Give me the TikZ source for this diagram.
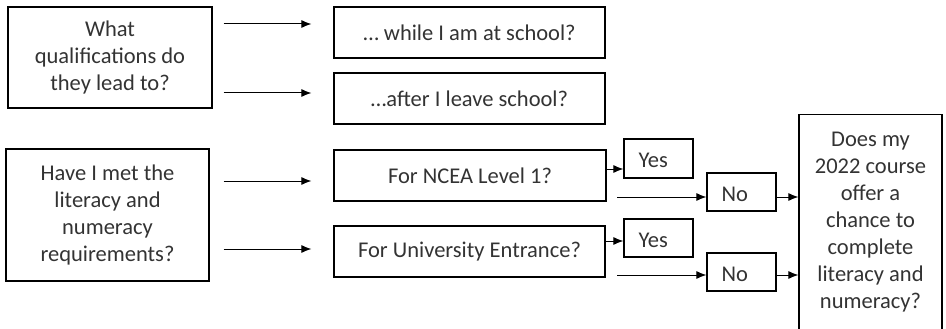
\documentclass[tikz,border=0pt]{standalone}
\usepackage{fontspec}
\setmainfont{Carlito}
\usetikzlibrary{arrows.meta}
\begin{document}
\begin{tikzpicture}[x=1pt,y=-1pt,
  txt/.style={font=\fontsize{22.5}{27}\selectfont,text=black!80},
  box/.style={txt,draw=black,line width=1.2pt,inner sep=0pt,align=center},
  smallbox/.style={box,minimum width=69pt,minimum height=38pt},
  arr/.style={line width=1pt,-{Latex[length=10pt,width=8pt]}}]
\useasboundingbox (0,0) rectangle (946,329);
\begin{scope}
\clip (0,0) rectangle (946,329);
\node[box,minimum width=204pt,minimum height=101pt] (A) at (110,57.5) {What\\qualifications do\\they lead to?};
\node[box,minimum width=271pt,minimum height=51pt] (B) at (469.5,32.5) {\dots\ while I am at school?};
\node[box,minimum width=271pt,minimum height=51pt] (C) at (469.5,98.5) {\dots after I leave school?};
\node[box,minimum width=203pt,minimum height=132pt] (D) at (107.5,215) {Have I met the\\literacy and\\numeracy\\requirements?};
\node[box,minimum width=272pt,minimum height=51pt] (E) at (470,175.5) {For NCEA Level 1?};
\node[box,minimum width=271pt,minimum height=51pt] (F) at (469.5,251.5) {For University Entrance?};
\node[smallbox,minimum height=39pt] (Y1) at (658.5,158.5) {};
\node[smallbox] (N1) at (741.5,192) {};
\node[smallbox] (Y2) at (658.5,238) {};
\node[smallbox] (N2) at (741.5,272) {};
\node[txt,anchor=west,inner sep=0pt] (Y1t) at ([xshift=15pt,yshift=-2pt]Y1.west) {Yes};
\node[txt,anchor=west,inner sep=0pt] (N1t) at ([xshift=15pt,yshift=-2pt]N1.west) {No};
\node[txt,anchor=west,inner sep=0pt] (Y2t) at ([xshift=15pt,yshift=-2pt]Y2.west) {Yes};
\node[txt,anchor=west,inner sep=0pt] (N2t) at ([xshift=15pt,yshift=-2pt]N2.west) {No};
\node[box,minimum width=143pt,minimum height=228pt,anchor=north] (G) at (870.5,114)
  {Does my\\2022 course\\offer a\\chance to\\complete\\literacy and\\numeracy?\\[-11pt]\mbox{}};
\end{scope}
\draw[arr,shorten <=11pt,shorten >=22pt] (A.east |- 0,24) -- (B.west |- 0,24);
\draw[arr,shorten <=11pt,shorten >=22pt] (A.east |- 0,93) -- (C.west |- 0,93);
\draw[arr,shorten <=14pt,shorten >=22pt] (D.east |- 0,181) -- (E.west |- 0,181);
\draw[arr,shorten <=14pt,shorten >=22pt] (D.east |- 0,249) -- (F.west |- 0,249);
\draw[arr] (E.east |- 0,169) -- (Y1.west |- 0,169);
\draw[arr] (F.east |- 0,241) -- (Y2.west |- 0,241);
\coordinate (n1s) at (617,197);
\coordinate (n2s) at (617,275);
\draw[arr] (n1s) -- (N1.west |- n1s);
\draw[arr] (n2s) -- (N2.west |- n2s);
\draw[arr] (N1.east |- 0,197) -- (G.west |- 0,197);
\draw[arr] (N2.east |- 0,275) -- (G.west |- 0,275);
\end{tikzpicture}
\end{document}
